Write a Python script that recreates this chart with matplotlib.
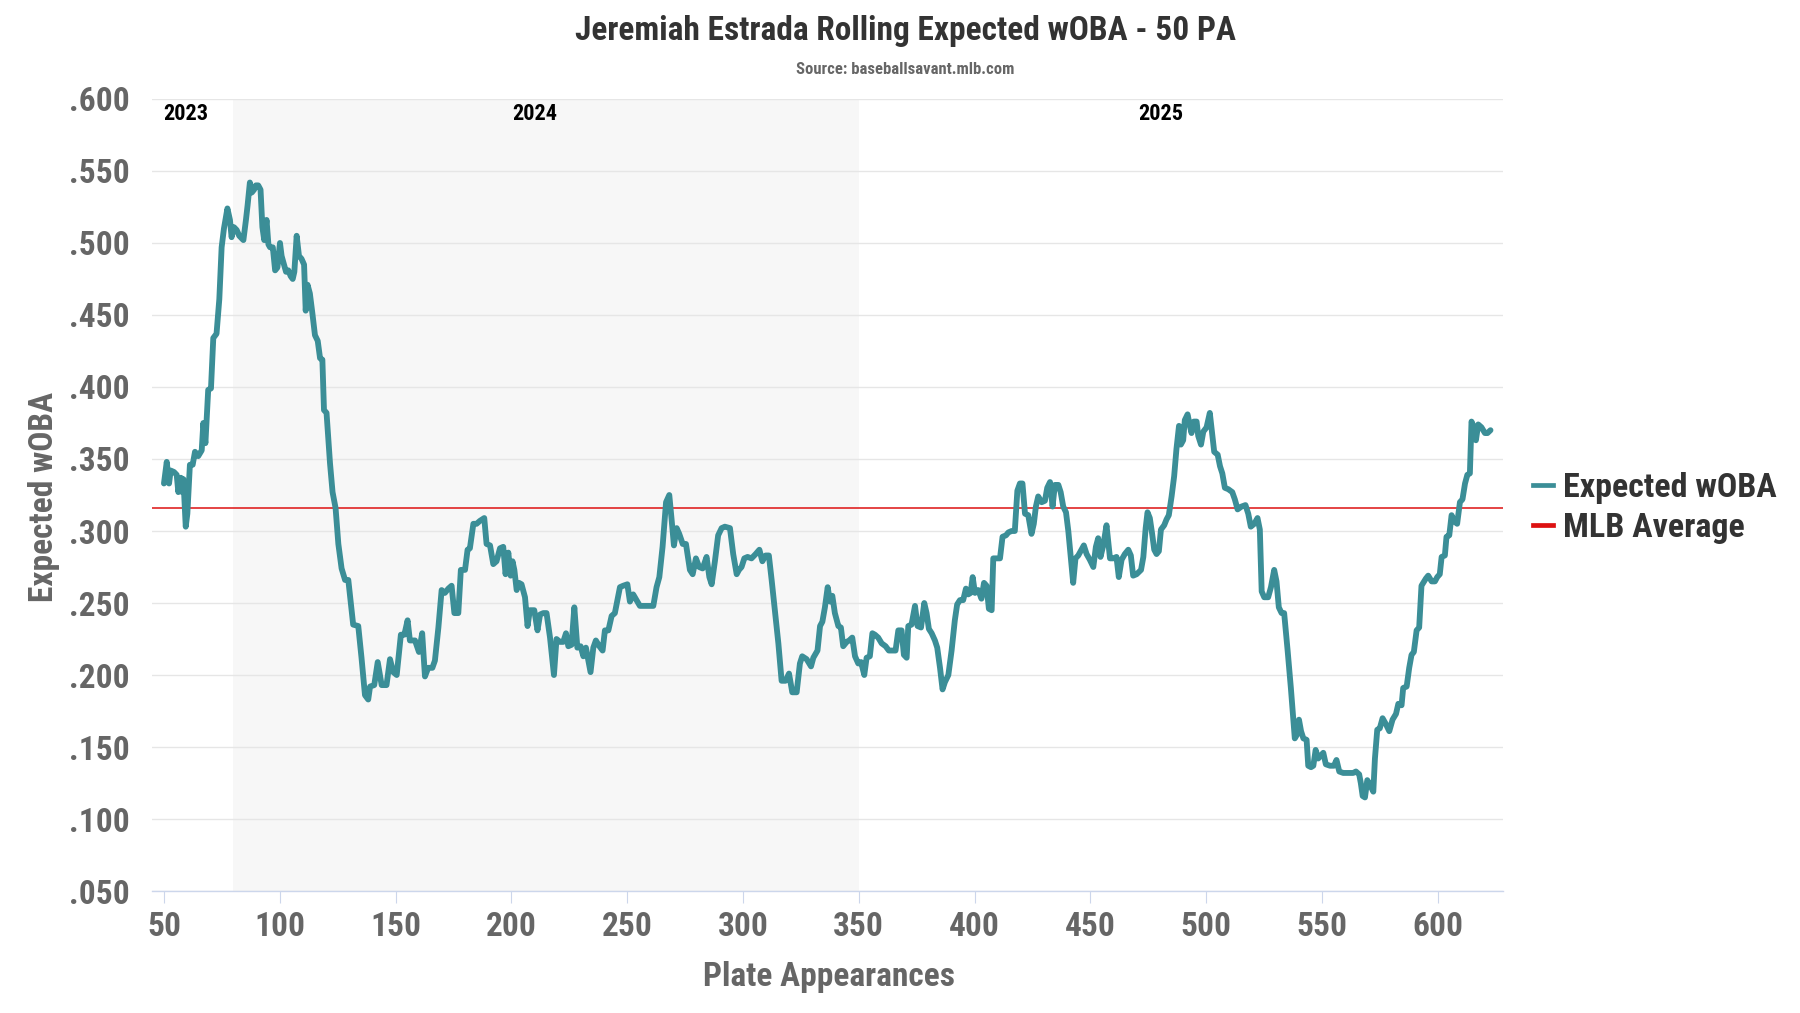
import matplotlib
matplotlib.use('Agg')
import matplotlib.pyplot as plt
import matplotlib.font_manager as fm
from matplotlib.lines import Line2D
from matplotlib.ticker import FuncFormatter

# rolling 50 PA expected wOBA
pa = [50.0, 51.2, 52.2, 52.9, 54.3, 55.5, 56.2, 57.3, 57.9, 58.4, 59.4, 60.1, 61.2, 62.4, 63.4, 64.8,
      66.3, 67.0, 67.9, 69.1, 70.3, 71.3, 72.7, 73.9, 74.9, 75.9, 77.4, 78.5, 79.2, 80.2, 81.4, 82.5,
      84.3, 85.4, 86.1, 87.1, 87.9, 88.9, 89.7, 90.7, 91.7, 92.5, 93.3, 94.3, 95.1, 95.8, 97.0, 98.0,
      99.0, 100.1, 100.8, 101.5, 102.7, 103.7, 104.7, 105.6, 106.3, 107.3, 108.3, 109.4, 110.5, 111.2,
      112.0, 113.0, 114.1, 115.2, 116.4, 117.4, 118.4, 119.1, 120.2, 121.7, 122.8, 124.1, 125.3, 126.7,
      128.2, 129.6, 131.7, 133.9, 135.3, 136.8, 138.2, 139.0, 140.8, 142.3, 144.0, 146.1, 147.6, 149.0,
      150.5, 152.3, 153.8, 155.2, 156.2, 158.4, 160.1, 161.5, 162.7, 164.1, 165.9, 167.0, 168.5, 169.9,
      171.3, 172.8, 174.2, 175.4, 177.1, 178.2, 180.0, 181.1, 182.1, 183.6, 185.0, 186.4, 188.3, 189.3,
      190.8, 192.2, 193.6, 195.1, 196.5, 197.5, 198.7, 199.7, 200.5, 201.3, 202.3, 203.3, 204.4, 205.9,
      207.0, 208.0, 209.9, 211.3, 212.4, 213.8, 215.2, 216.7, 218.4, 219.5, 221.0, 222.4, 223.6, 224.6,
      226.0, 227.2, 228.5, 229.9, 231.1, 232.2, 234.2, 235.4, 236.5, 238.0, 239.4, 240.4, 241.9, 243.3,
      244.7, 246.9, 248.3, 250.1, 251.2, 252.6, 254.4, 255.5, 258.1, 261.3, 262.7, 263.9, 265.3, 266.8,
      268.2, 269.2, 270.2, 271.4, 272.5, 274.0, 275.4, 277.1, 278.3, 279.7, 281.1, 282.6, 284.3, 285.5,
      286.5, 287.9, 289.3, 290.8, 292.2, 294.4, 295.8, 297.3, 298.3, 299.4, 300.6, 302.0, 303.7, 305.5,
      307.1, 308.4, 309.8, 311.2, 312.4, 313.8, 315.3, 316.7, 318.4, 319.9, 321.3, 323.2, 324.6, 325.6,
      327.5, 329.4, 330.4, 332.2, 333.3, 334.3, 335.4, 336.6, 337.6, 338.6, 339.7, 341.2, 342.3, 343.3,
      344.8, 345.9, 347.2, 348.4, 349.8, 351.0, 352.4, 353.4, 354.8, 355.9, 357.0, 358.4, 359.9, 361.6,
      363.0, 364.5, 365.9, 367.1, 368.5, 369.5, 370.7, 371.4, 372.8, 374.3, 375.4, 376.9, 378.3, 379.3,
      380.3, 381.5, 382.9, 383.9, 385.1, 386.2, 387.2, 388.7, 390.1, 391.5, 392.5, 393.7, 395.1, 396.3,
      397.3, 398.3, 399.2, 400.2, 401.6, 403.0, 404.1, 405.2, 406.2, 407.4, 408.1, 409.5, 411.0, 412.1,
      413.6, 414.6, 416.0, 417.4, 418.5, 419.6, 420.7, 421.8, 423.2, 424.6, 425.6, 426.5, 427.5, 429.0,
      430.4, 431.4, 432.6, 433.7, 434.7, 436.2, 437.2, 438.3, 439.5, 440.5, 441.5, 442.6, 443.6, 444.8,
      446.2, 447.2, 448.4, 449.8, 451.3, 452.4, 453.4, 454.4, 455.6, 457.0, 458.5, 459.9, 461.3, 462.3,
      463.5, 464.9, 466.4, 467.5, 468.5, 470.0, 471.9, 472.9, 473.9, 474.7, 475.7, 476.7, 477.6, 478.6,
      479.6, 480.5, 481.9, 482.9, 483.9, 485.1, 486.2, 487.2, 488.3, 489.1, 490.1, 490.8, 492.0, 493.0,
      493.7, 494.7, 495.9, 496.6, 497.8, 498.8, 500.2, 501.6, 502.6, 503.5, 505.0, 506.0, 507.0, 508.1,
      509.6, 511.3, 512.4, 513.6, 515.3, 517.0, 518.2, 519.3, 520.8, 522.2, 523.2, 524.0, 525.1, 526.8,
      528.0, 529.4, 530.4, 531.4, 532.6, 533.7, 535.2, 536.6, 537.6, 538.3, 539.4, 540.1, 541.0, 542.0,
      543.4, 544.1, 545.3, 546.3, 547.3, 548.4, 550.6, 551.7, 553.5, 555.2, 556.3, 557.5, 559.2, 561.4,
      563.5, 564.7, 566.1, 566.8, 567.6, 568.6, 569.6, 570.7, 572.2, 572.9, 573.9, 575.0, 576.2, 577.6,
      579.1, 580.5, 582.0, 583.0, 584.4, 585.1, 586.6, 587.7, 588.7, 589.7, 590.9, 592.0, 593.0, 594.9,
      595.9, 597.4, 598.8, 599.8, 600.9, 601.7, 603.1, 603.8, 605.0, 606.0, 607.0, 608.4, 609.6, 610.7,
      611.8, 612.8, 613.9, 614.6, 615.6, 616.5, 617.5, 618.9, 620.4, 621.5, 622.8]

xwoba = [.333, .348, .333, .342, .341, .339, .327, .337, .327, .336, .303, .312, .346, .346, .355, .352,
         .356, .375, .361, .398, .399, .434, .437, .461, .497, .510, .524, .516, .504, .511, .509, .505,
         .502, .516, .526, .542, .535, .537, .540, .540, .537, .511, .502, .516, .499, .497, .497, .481,
         .483, .500, .491, .487, .480, .481, .477, .475, .480, .505, .491, .489, .485, .453,
         .471, .465, .451, .436, .432, .420, .419, .384, .382, .347, .327, .316, .291, .274,
         .266, .266, .235, .234, .212, .186, .183, .192, .193, .209, .193, .193, .211, .202,
         .200, .228, .228, .238, .224, .224, .216, .229, .199, .205, .205, .210, .233, .259,
         .257, .260, .262, .243, .243, .273, .273, .287, .288, .305, .305, .307, .309, .291,
         .290, .277, .279, .288, .289, .270, .285, .269, .279, .273, .259, .264, .263, .254,
         .234, .245, .245, .231, .242, .243, .243, .226, .200, .225, .223, .223, .229, .220,
         .221, .247, .219, .220, .213, .219, .202, .219, .224, .220, .217, .231, .231, .241,
         .243, .261, .262, .263, .251, .256, .251, .248, .248, .248, .261, .268, .289, .320,
         .325, .308, .290, .302, .298, .291, .291, .273, .270, .281, .275, .274, .282, .268,
         .263, .279, .297, .302, .303, .302, .284, .270, .273, .275, .281, .282, .281, .284,
         .287, .279, .283, .283, .266, .245, .222, .196, .196, .201, .188, .188, .208, .213,
         .211, .206, .212, .217, .234, .237, .247, .261, .251, .255, .243, .234, .233, .220,
         .223, .224, .226, .213, .208, .209, .200, .212, .213, .229, .228, .226, .222, .220,
         .217, .217, .217, .231, .231, .214, .212, .234, .235, .248, .234, .233, .250, .243,
         .232, .229, .224, .219, .205, .190, .195, .200, .217, .238, .249, .252, .252, .260,
         .256, .257, .268, .257, .259, .253, .264, .262, .246, .245, .281, .281, .281, .296,
         .297, .299, .300, .300, .328, .333, .333, .312, .311, .298, .305, .317, .324, .320,
         .321, .330, .334, .317, .332, .332, .327, .317, .313, .300, .283, .264, .281, .283,
         .287, .290, .284, .280, .275, .289, .295, .282, .290, .304, .281, .281, .282, .268,
         .280, .284, .287, .283, .269, .270, .273, .282, .302, .313, .309, .298, .287, .284,
         .286, .301, .304, .308, .311, .324, .338, .357, .373, .360, .363, .377, .381, .373,
         .368, .376, .376, .366, .360, .369, .372, .382, .368, .355, .353, .345, .340, .330,
         .329, .327, .322, .315, .317, .318, .312, .303, .305, .309, .301, .258, .254, .254,
         .261, .273, .265, .247, .243, .243, .217, .191, .170, .156, .159, .169, .161, .156,
         .155, .137, .136, .137, .148, .142, .146, .138, .137, .137, .141, .133, .132, .132,
         .132, .133, .131, .125, .116, .115, .127, .124, .119, .142, .162, .163, .170, .166,
         .161, .169, .173, .180, .179, .191, .192, .205, .214, .216, .231, .233, .262, .267,
         .269, .265, .265, .268, .270, .282, .283, .296, .297, .311, .307, .305, .320, .322,
         .333, .339, .340, .376, .372, .363, .374, .372, .368, .368, .370]

mlb_avg = 0.316
band_2024 = (80, 350)
season_labels = ['2023', '2024', '2025']
season_label_pa = [59.5, 210, 480.5]
x_ticks = [50, 100, 150, 200, 250, 300, 350, 400, 450, 500, 550, 600]
y_ticks = [0.05, 0.10, 0.15, 0.20, 0.25, 0.30, 0.35, 0.40, 0.45, 0.50, 0.55, 0.60]

# pick a condensed font if one is around
familias = {f.name for f in fm.fontManager.ttflist}
stretch = 'normal'
if 'Roboto Condensed' in familias:
    fuente = 'Roboto Condensed'
elif 'Liberation Sans Narrow' in familias:
    fuente = 'Liberation Sans Narrow'
elif any(f.name == 'DejaVu Sans' and f.stretch == 'condensed' for f in fm.fontManager.ttflist):
    fuente = 'DejaVu Sans'
    stretch = 'condensed'
else:
    fuente = 'Roboto'
plt.rcParams['font.family'] = [fuente, 'DejaVu Sans']
plt.rcParams['font.stretch'] = stretch
plt.rcParams['font.weight'] = 'bold'

teal = '#3b8e97'
red = '#dd1111'

fig = plt.figure(figsize=(18, 10.13), dpi=100)
ax = fig.add_axes([0.0844, 0.1204, 0.7506, 0.7819])

ax.axvspan(band_2024[0], band_2024[1], color='#f7f7f7', lw=0, zorder=0)
ax.set_axisbelow(True)
ax.yaxis.grid(True, color='#e6e6e6', lw=1)

ax.plot(pa, xwoba, color=teal, lw=4.2, solid_joinstyle='round', solid_capstyle='round', zorder=3)
ax.axhline(mlb_avg, color=red, lw=1.1, zorder=2)

for lab, x in zip(season_labels, season_label_pa):
    ax.text(x, 0.5896, lab, ha='center', va='center', fontsize=16, fontweight='bold', color='black')

ax.set_xlim(44.8, 628.2)
ax.set_ylim(0.05, 0.60)
ax.set_xticks(x_ticks)
ax.set_yticks(y_ticks)
ax.yaxis.set_major_formatter(FuncFormatter(lambda v, p: f'{v:.3f}'.lstrip('0')))

for lado in ['top', 'right', 'left']:
    ax.spines[lado].set_visible(False)
ax.spines['bottom'].set_color('#ccd6eb')
ax.spines['bottom'].set_linewidth(1)

ax.tick_params(axis='x', direction='out', length=8.6, width=0.8, color='#ccd6eb',
               labelcolor='#666666', labelsize=24, pad=6)
ax.tick_params(axis='y', length=0, labelcolor='#666666', labelsize=24, pad=16)

fig.text(0.503, 0.969, 'Jeremiah Estrada Rolling Expected wOBA - 50 PA', ha='center', va='center',
         fontsize=24, fontweight='bold', color='#333333')
fig.text(0.503, 0.931, 'Source: baseballsavant.mlb.com', ha='center', va='center',
         fontsize=12, fontweight='bold', color='#666666')
fig.text(0.0244, 0.509, 'Expected wOBA', rotation=90, ha='center', va='center',
         fontsize=24, fontweight='bold', color='#666666')
fig.text(0.4605, 0.0355, 'Plate Appearances', ha='center', va='center',
         fontsize=24, fontweight='bold', color='#666666')

handles = [Line2D([0], [0], color=teal, lw=3.4), Line2D([0], [0], color=red, lw=3.4)]
leg = fig.legend(handles, ['Expected wOBA', 'MLB Average'], loc='center left',
                 bbox_to_anchor=(0.8515, 0.4985), frameon=False, fontsize=24.5,
                 handlelength=0.6, handletextpad=0.3, labelspacing=0.25,
                 borderpad=0, borderaxespad=0)
for t in leg.get_texts():
    t.set_color('#333333')
    t.set_fontweight('bold')

fig.savefig('out.png', dpi=100)
